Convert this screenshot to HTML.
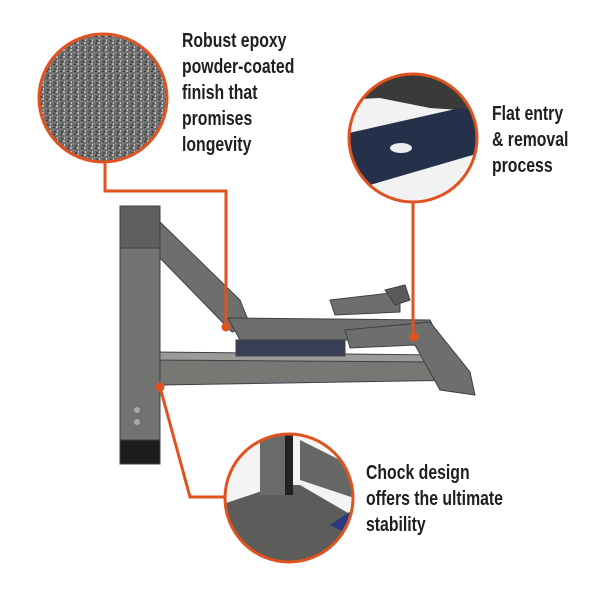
<!DOCTYPE html>
<html><head><meta charset="utf-8"><style>
html,body{margin:0;padding:0;background:#fff;}
body{width:600px;height:601px;position:relative;overflow:hidden;font-family:"Liberation Sans",sans-serif;}
.t{position:absolute;color:#1e1e1e;font-size:20px;line-height:26px;font-weight:bold;white-space:nowrap;transform:scaleX(0.79);transform-origin:0 0;}
</style></head><body>
<svg width="600" height="601" style="position:absolute;left:0;top:0">
<defs>
<pattern id="sp" width="7" height="7" patternUnits="userSpaceOnUse">
<rect width="7" height="7" fill="#6f6f6f"/>
<rect x="0" y="0" width="2" height="2" fill="#b0b0b0"/>
<rect x="4" y="1" width="2" height="1" fill="#3a3a3a"/>
<rect x="1" y="4" width="1" height="2" fill="#c8c8c8"/>
<rect x="5" y="5" width="2" height="2" fill="#4a4a4a"/>
<rect x="3" y="3" width="1" height="1" fill="#999"/>
</pattern>
<clipPath id="c2"><circle cx="413" cy="138" r="64"/></clipPath>
<clipPath id="c3"><circle cx="289" cy="498" r="64"/></clipPath>
</defs>
<g fill="#6e6e6c" stroke="#3e4048" stroke-width="1">
<polygon points="160,222 240,300 250,325 232,332 160,258"/>
<polygon points="228,318 430,320 440,340 240,340"/>
<polygon points="160,358 430,360 470,380 160,385" fill="#777774"/>
<polygon points="155,352 440,355 440,362 155,360" fill="#9a9a98"/>
<polygon points="330,300 400,292 400,312 335,315"/>
<polygon points="385,290 405,285 410,300 395,305" fill="#5a5a58"/>
<polygon points="345,330 430,322 470,372 475,395 440,390 415,345 350,348"/>
<polygon points="236,340 345,340 345,356 236,356" fill="#3a3f55"/>
<rect x="120" y="206" width="40" height="240" fill="#727270"/>
<rect x="120" y="206" width="40" height="42" fill="#5f5f5d"/>
<rect x="120" y="440" width="40" height="24" fill="#1c1c1c"/>
</g>
<circle cx="137" cy="410" r="3" fill="#aaa"/>
<circle cx="137" cy="422" r="3" fill="#aaa"/>
<circle cx="103" cy="98" r="64" fill="url(#sp)" stroke="#e0531f" stroke-width="3"/>
<g clip-path="url(#c2)">
<rect x="340" y="70" width="150" height="140" fill="#f2f2f2"/>
<polygon points="340,70 490,70 490,112 430,108 380,98 340,100" fill="#3a3a38"/>
<polygon points="340,135 460,108 490,115 490,150 370,185 340,195" fill="#25304a"/>
<ellipse cx="401" cy="148" rx="11" ry="5" fill="#eee"/>
</g>
<circle cx="413" cy="138" r="64" fill="none" stroke="#e0531f" stroke-width="3"/>
<g clip-path="url(#c3)">
<rect x="220" y="430" width="140" height="140" fill="#f4f4f4"/>
<polygon points="220,505 280,485 300,485 360,520 360,570 220,570" fill="#5c5c5a"/>
<polygon points="300,440 360,470 360,500 300,480" fill="#666664"/>
<rect x="260" y="430" width="25" height="65" fill="#6a6a68"/>
<rect x="285" y="430" width="8" height="65" fill="#222"/>
<polygon points="330,525 360,505 360,540" fill="#2a3a80"/>
</g>
<circle cx="289" cy="498" r="64" fill="none" stroke="#e0531f" stroke-width="3"/>
<g stroke="#e0531f" stroke-width="3" fill="none">
<polyline points="105,162 105,191 226,191 226,326"/>
<polyline points="413,202 413,336"/>
<polyline points="160,387 190,497 225,497"/>
</g>
<g fill="#e0531f"><circle cx="226" cy="327" r="4.5"/><circle cx="414" cy="337" r="4.5"/><circle cx="160" cy="387" r="4.5"/></g>
</svg>
<div class="t" style="left:182px;top:28px">Robust epoxy<br>powder-coated<br>finish that<br>promises<br>longevity</div>
<div class="t" style="left:492px;top:101px">Flat entry<br>&amp; removal<br>process</div>
<div class="t" style="left:366px;top:460px">Chock design<br>offers the ultimate<br>stability</div>
</body></html>
